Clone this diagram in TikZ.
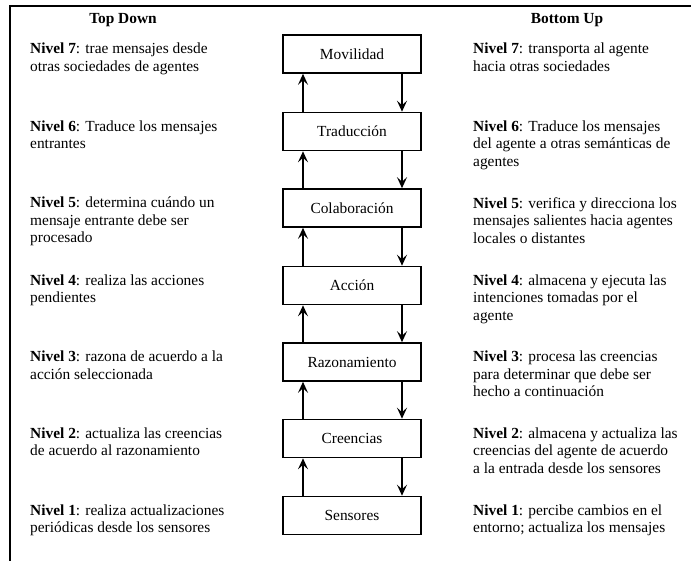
\documentclass[tikz,border=0pt]{standalone}
\usepackage{fontspec}
\setmainfont{Liberation Serif}
\usetikzlibrary{arrows.meta}
\begin{document}
\begin{tikzpicture}[x=1pt,y=-1pt,
  layer/.style={draw,line width=1.6pt,minimum width=138pt,minimum height=38pt,inner sep=0pt,font=\fontsize{15.4}{17.5}\selectfont},
  desc/.style={anchor=north west,align=left,inner sep=0pt,font=\fontsize{15.4}{17.5}\selectfont},
  head/.style={inner sep=0pt,font=\fontsize{15.4}{17.5}\selectfont\bfseries},
  flow/.style={line width=1.5pt,-{Stealth[length=11pt,width=10pt,inset=4.5pt]}}]
\useasboundingbox (0,0) rectangle (691,560);
% outer frame, open past the right and bottom edges
\draw[line width=1.4pt] (10,570) -- (10,6) -- (700,6);

\node[head] (td) at (123,20) {Top Down};
\node[head] (bu) at (567,20) {Bottom Up};

% the seven layers
\node[layer] (l7) at (352,54)    {Movilidad};
\node[layer] (l6) at (352,131.5) {Traducción};
\node[layer] (l5) at (352,208)   {Colaboración};
\node[layer] (l4) at (352,285.5) {Acción};
\node[layer] (l3) at (352,362)   {Razonamiento};
\node[layer] (l2) at (352,438.5) {Creencias};
\node[layer] (l1) at (352,515.5) {Sensores};

% upward (left) and downward (right) flows
\foreach \lo/\hi in {l1/l2,l2/l3,l3/l4,l4/l5,l5/l6,l6/l7}{
  \draw[flow] ([xshift=-49pt]\lo.north) -- ([xshift=-49pt]\hi.south);
  \draw[flow] ([xshift=50pt]\hi.south) -- ([xshift=50pt]\lo.north);
}

% top-down descriptions
\node[desc] (t7) at (30,43)    {\textbf{Nivel 7}: trae mensajes desde\\otras sociedades de agentes};
\node[desc] (t6) at (30,120.5) {\textbf{Nivel 6}: Traduce los mensajes\\entrantes};
\node[desc] (t5) at (30,197)   {\textbf{Nivel 5}: determina cuándo un\\mensaje entrante debe ser\\procesado};
\node[desc] (t4) at (30,274.5) {\textbf{Nivel 4}: realiza las acciones\\pendientes};
\node[desc] (t3) at (30,351)   {\textbf{Nivel 3}: razona de acuerdo a la\\acción seleccionada};
\node[desc] (t2) at (30,427.5) {\textbf{Nivel 2}: actualiza las creencias\\de acuerdo al razonamiento};
\node[desc] (t1) at (30,504.5) {\textbf{Nivel 1}: realiza actualizaciones\\periódicas desde los sensores};

% bottom-up descriptions
\node[desc] (b7) at (473,43)    {\textbf{Nivel 7}: transporta al agente\\hacia otras sociedades};
\node[desc] (b6) at (473,120.5) {\textbf{Nivel 6}: Traduce los mensajes\\del agente a otras semánticas de\\agentes};
\node[desc] (b5) at (473,197)   {\textbf{Nivel 5}: verifica y direcciona los\\mensajes salientes hacia agentes\\locales o distantes};
\node[desc] (b4) at (473,274.5) {\textbf{Nivel 4}: almacena y ejecuta las\\intenciones tomadas por el\\agente};
\node[desc] (b3) at (473,351)   {\textbf{Nivel 3}: procesa las creencias\\para determinar que debe ser\\hecho a continuación};
\node[desc] (b2) at (473,427.5) {\textbf{Nivel 2}: almacena y actualiza las\\creencias del agente de acuerdo\\a la entrada desde los sensores};
\node[desc] (b1) at (473,504.5) {\textbf{Nivel 1}: percibe cambios en el\\entorno; actualiza los mensajes};
\end{tikzpicture}
\end{document}
